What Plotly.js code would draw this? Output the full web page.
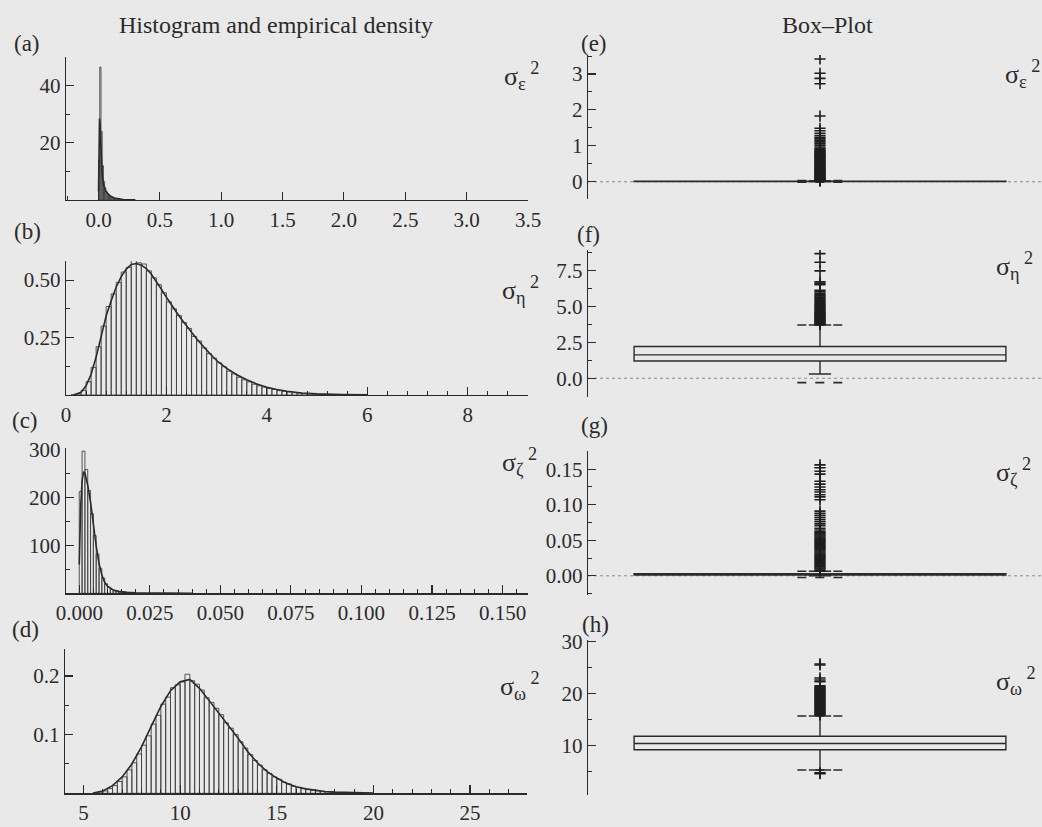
<!DOCTYPE html>
<html>
<head>
<meta charset="utf-8">
<script src="https://cdn.plot.ly/plotly-3.0.1.min.js"></script>
<style>html,body{margin:0;padding:0;background:#e9e9e9;}</style>
</head>
<body>
<div id="chart" style="width:1042px;height:827px;"></div>
<script>
// ---------- (a) sigma_eps^2 : histogram bins (centres) and empirical density ----------
const epsBinCentres = [0.005,0.015,0.025,0.035,0.045,0.055,0.065,0.075,0.085,0.095,0.105,0.115,0.125,0.135,0.145,0.155,0.165,0.175,0.185,0.195];
const epsBinHeights = [14,46.5,24,12,6.5,4.2,3,2.3,1.8,1.4,1.1,0.9,0.7,0.55,0.45,0.35,0.3,0.25,0.2,0.15];
const epsDensX = [0,0.004,0.008,0.012,0.016,0.02,0.025,0.03,0.04,0.05,0.06,0.08,0.1,0.13,0.16,0.2,0.3];
const epsDensY = [3,18,28.5,27,22,16,11.5,8.5,5.5,4,3,2,1.3,0.7,0.4,0.2,0.05];

// ---------- (b) sigma_eta^2 ----------
const etaBinCentres = [0.15,0.25,0.35,0.45,0.55,0.65,0.75,0.85,0.95,1.05,1.15,1.25,1.35,1.45,1.55,1.65,1.75,1.85,1.95,2.05,2.15,2.25,2.35,2.45,2.55,2.65,2.75,2.85,2.95,3.05,3.15,3.25,3.35,3.45,3.55,3.65,3.75,3.85,3.95,4.05,4.15,4.25,4.35,4.45,4.55,4.65,4.75,4.85,4.95,5.05,5.15,5.25,5.35,5.45,5.55];
const etaBinHeights = [0.001,0.005,0.02,0.058,0.12,0.21,0.3,0.385,0.44,0.49,0.535,0.555,0.59,0.575,0.57,0.54,0.51,0.48,0.445,0.405,0.375,0.345,0.315,0.29,0.255,0.235,0.205,0.18,0.16,0.14,0.123,0.104,0.092,0.077,0.066,0.057,0.047,0.04,0.034,0.028,0.024,0.019,0.016,0.013,0.01,0.008,0.0065,0.005,0.004,0.003,0.0025,0.002,0.0015,0.0012,0.001];
const etaDensX = [0.15,0.3,0.4,0.5,0.6,0.7,0.8,0.9,1.0,1.1,1.2,1.3,1.4,1.5,1.6,1.7,1.8,1.9,2.0,2.1,2.2,2.3,2.4,2.5,2.6,2.7,2.8,2.9,3.0,3.2,3.4,3.6,3.8,4.0,4.2,4.4,4.7,5.0,5.5,6.0];
const etaDensY = [0,0.012,0.04,0.09,0.165,0.26,0.345,0.41,0.47,0.515,0.548,0.568,0.572,0.565,0.55,0.525,0.495,0.46,0.425,0.39,0.36,0.33,0.3,0.272,0.245,0.22,0.195,0.172,0.15,0.116,0.088,0.066,0.048,0.034,0.024,0.016,0.009,0.005,0.002,0.001];

// ---------- (c) sigma_zeta^2 ----------
const zetaBinCentres = [0.0005,0.0015,0.0025,0.0035,0.0045,0.0055,0.0065,0.0075,0.0085,0.0095,0.0105,0.0115,0.0125,0.0135,0.0145,0.0155,0.0165,0.0175,0.0185,0.0195];
const zetaBinHeights = [212,296,258,214,166,120,82,52,32,20,12.5,8,5.2,3.5,2.4,1.7,1.2,0.9,0.7,0.5];
const zetaDensX = [0,0.0005,0.001,0.0015,0.002,0.0025,0.003,0.004,0.005,0.006,0.007,0.008,0.009,0.01,0.012,0.014,0.017,0.02,0.03,0.04];
const zetaDensY = [60,180,235,252,250,240,225,190,142,98,62,38,23,15,7,4,2,1,0.3,0.1];

// ---------- (d) sigma_omega^2 ----------
const omegaBinCentres = [5.625,5.875,6.125,6.375,6.625,6.875,7.125,7.375,7.625,7.875,8.125,8.375,8.625,8.875,9.125,9.375,9.625,9.875,10.125,10.375,10.625,10.875,11.125,11.375,11.625,11.875,12.125,12.375,12.625,12.875,13.125,13.375,13.625,13.875,14.125,14.375,14.625,14.875,15.125,15.375,15.625,15.875,16.125,16.375,16.625,16.875,17.125,17.375,17.625,17.875,18.125,18.375,18.625,18.875];
const omegaBinHeights = [0.001,0.002,0.004,0.008,0.013,0.02,0.028,0.04,0.052,0.067,0.082,0.098,0.118,0.133,0.152,0.164,0.18,0.185,0.19,0.203,0.192,0.186,0.176,0.163,0.155,0.145,0.134,0.12,0.111,0.1,0.088,0.077,0.066,0.056,0.048,0.04,0.034,0.028,0.024,0.019,0.016,0.012,0.01,0.008,0.0065,0.005,0.004,0.003,0.0025,0.002,0.0015,0.001,0.0008,0.0006];
const omegaDensX = [5.5,6,6.5,7,7.5,8,8.5,9,9.5,10,10.5,11,11.5,12,12.5,13,13.5,14,14.5,15,15.5,16,16.5,17,17.5,18,19,20];
const omegaDensY = [0.0005,0.004,0.013,0.028,0.05,0.079,0.114,0.148,0.175,0.19,0.194,0.179,0.158,0.137,0.114,0.094,0.071,0.052,0.037,0.026,0.017,0.011,0.0075,0.005,0.003,0.002,0.0008,0.0003];

// ---------- box-plot summaries: q1, median, q3, whisker ends, inner fences, outliers ----------
const epsBox   = {q1:0.004, median:0.008, q3:0.016, lo:0.0005, hi:0.03, fenceLo:-0.014, fenceHi:0.034};
const etaBox   = {q1:1.2, median:1.62, q3:2.2, lo:0.3, hi:3.7, fenceLo:-0.3, fenceHi:3.7};
const zetaBox  = {q1:0.0009, median:0.0017, q3:0.0031, lo:0.0001, hi:0.0064, fenceLo:-0.0024, fenceHi:0.0064};
const omegaBox = {q1:9.2, median:10.4, q3:11.8, lo:5.3, hi:15.7, fenceLo:5.3, fenceHi:15.7};

const epsOutliers = [0.02,0.035,0.05,0.06,0.075,0.09,0.1,0.12,0.13,0.145,0.16,0.18,0.19,0.21,0.22,0.24,0.26,0.27,0.29,0.3,0.32,0.34,0.35,0.37,0.39,0.41,0.42,0.44,0.46,0.48,0.5,0.51,0.53,0.55,0.57,0.59,0.6,0.62,0.64,0.66,0.68,0.7,0.71,0.73,0.75,0.77,0.79,0.81,0.83,0.85,0.87,0.9,0.93,0.97,1.02,1.07,1.11,1.16,1.2,1.24,1.29,1.35,1.42,1.49,1.83,2.73,2.88,3.02,3.42];
const etaOutliers = [3.72,3.76,3.8,3.85,3.9,3.94,3.98,4.03,4.08,4.12,4.17,4.22,4.26,4.3,4.35,4.4,4.45,4.5,4.55,4.6,4.66,4.72,4.78,4.84,4.9,4.97,5.04,5.1,5.17,5.24,5.32,5.4,5.47,5.55,5.63,5.72,5.8,5.9,6.0,6.1,6.5,6.6,6.7,7.45,8.05,8.65];
const zetaOutliers = [0.0065,0.008,0.0095,0.011,0.0125,0.014,0.0155,0.017,0.0185,0.02,0.0215,0.023,0.0245,0.026,0.0275,0.029,0.0305,0.032,0.0335,0.035,0.0365,0.038,0.0395,0.041,0.0425,0.044,0.0455,0.047,0.0485,0.05,0.0515,0.053,0.0545,0.056,0.0575,0.059,0.0605,0.062,0.0645,0.067,0.0705,0.073,0.076,0.079,0.082,0.085,0.088,0.091,0.107,0.111,0.114,0.118,0.121,0.125,0.129,0.133,0.143,0.147,0.152,0.156];
const omegaOutliers = [4.6,4.75,15.9,16.05,16.2,16.35,16.5,16.65,16.8,16.95,17.1,17.25,17.4,17.55,17.7,17.85,18.0,18.15,18.3,18.45,18.6,18.75,18.9,19.05,19.2,19.35,19.5,19.65,19.8,19.95,20.1,20.25,20.4,20.55,20.7,20.85,21.0,21.15,21.3,21.5,22.3,22.6,23.0,25.5,25.7];

// ---------- drawing ----------
const W = 1042, H = 827;
const INK = '#2b2b2b';
const SERIF = 'Liberation Serif, Times New Roman, serif';
const TICK_SIZE = 21;
const fx = p => p / W;
const fy = p => 1 - p / H;

function histTraces(n, cx, hy, bw, dx, dy) {
  const xa = 'x' + (n === 1 ? '' : n), ya = 'y' + (n === 1 ? '' : n);
  return [
    {type:'bar', x:cx, y:hy, width:bw, xaxis:xa, yaxis:ya,
     marker:{color:'rgba(0,0,0,0)', line:{color:'#444', width:0.9}}, hoverinfo:'skip'},
    {type:'scatter', mode:'lines', x:dx, y:dy, xaxis:xa, yaxis:ya,
     line:{color:INK, width:1.6}, hoverinfo:'skip'}
  ];
}

const BOX_W = 0.819, CAP = 0.05;
function boxTraces(n, s, out) {
  const xa = 'x' + n, ya = 'y' + n;
  return [
    {type:'box', x:[0], q1:[s.q1], median:[s.median], q3:[s.q3],
     lowerfence:[s.lo], upperfence:[s.hi], width:BOX_W, whiskerwidth:0.06,
     boxpoints:false, fillcolor:'rgba(0,0,0,0)', line:{color:INK, width:1.4},
     xaxis:xa, yaxis:ya, hoverinfo:'skip'},
    {type:'scatter', mode:'lines', xaxis:xa, yaxis:ya,
     x:[-CAP, CAP, null, -CAP, CAP], y:[s.fenceLo, s.fenceLo, null, s.fenceHi, s.fenceHi],
     line:{color:INK, width:1.6, dash:'dash'}, hoverinfo:'skip'},
    {type:'scatter', mode:'markers', xaxis:xa, yaxis:ya,
     x:out.map(() => 0), y:out,
     marker:{symbol:'cross-thin', size:8, line:{color:'#1e1e1e', width:1.6}}, hoverinfo:'skip'}
  ];
}

const data = [
  ...histTraces(1, epsBinCentres, epsBinHeights, 0.01, epsDensX, epsDensY),
  ...histTraces(2, etaBinCentres, etaBinHeights, 0.1, etaDensX, etaDensY),
  ...histTraces(3, zetaBinCentres, zetaBinHeights, 0.001, zetaDensX, zetaDensY),
  ...histTraces(4, omegaBinCentres, omegaBinHeights, 0.25, omegaDensX, omegaDensY),
  ...boxTraces(5, epsBox, epsOutliers),
  ...boxTraces(6, etaBox, etaOutliers),
  ...boxTraces(7, zetaBox, zetaOutliers),
  ...boxTraces(8, omegaBox, omegaOutliers)
];

const base = {
  showline:true, linecolor:INK, linewidth:1.3, ticks:'inside', ticklen:8, tickwidth:1.1,
  tickcolor:INK, showgrid:false, zeroline:false, fixedrange:true,
  tickfont:{family:SERIF, size:TICK_SIZE, color:INK}
};
function minor(vals) { return {tickvals:vals, ticks:'inside', ticklen:4, tickwidth:1, tickcolor:INK, showgrid:false}; }
function seq(a, b, step, skipEvery) {
  const out = [];
  for (let i = 0; a + i * step <= b + 1e-12; i++) {
    if (skipEvery && i % skipEvery === 0) continue;
    out.push(+(a + i * step).toFixed(6));
  }
  return out;
}
function xAxis(pxL, pxR, range, vals, text, mvals, anchor) {
  return Object.assign({}, base, {domain:[fx(pxL), fx(pxR)], range:range, tickmode:'array',
    tickvals:vals, ticktext:text, minor:minor(mvals), anchor:anchor});
}
function yAxis(pxTop, pxBot, range, vals, text, mvals, anchor) {
  return Object.assign({}, base, {domain:[fy(pxBot), fy(pxTop)], range:range, tickmode:'array',
    tickvals:vals, ticktext:text, minor:minor(mvals), anchor:anchor});
}
function hiddenX(anchor) {
  return {domain:[fx(588), fx(1042)], range:[-0.511, 0.489], visible:false, fixedrange:true, anchor:anchor};
}

const layout = {
  width:W, height:H, margin:{l:0, r:0, t:0, b:0},
  paper_bgcolor:'#e9e9e9', plot_bgcolor:'rgba(0,0,0,0)', showlegend:false, bargap:0,
  font:{family:SERIF, color:INK},
  // histogram panels
  xaxis:  xAxis(66, 528, [-0.265, 3.5], [0,0.5,1,1.5,2,2.5,3,3.5], ['0.0','0.5','1.0','1.5','2.0','2.5','3.0','3.5'], seq(-0.25, 3.25, 0.25, 2).concat([-0.25]), 'y'),
  yaxis:  yAxis(57, 200, [0, 50], [20,40], ['20','40'], [10,30,50], 'x'),
  xaxis2: xAxis(66, 528, [0, 9.2], [0,2,4,6,8], ['0','2','4','6','8'], seq(0, 9.2, 0.4, 5), 'y2'),
  yaxis2: yAxis(261, 395, [0, 0.583], [0.25,0.5], ['0.25','0.50'], [0.125,0.375], 'x2'),
  xaxis3: xAxis(66, 528, [-0.0047, 0.159], [0,0.025,0.05,0.075,0.1,0.125,0.15], ['0.000','0.025','0.050','0.075','0.100','0.125','0.150'], seq(0, 0.155, 0.005, 5), 'y3'),
  yaxis3: yAxis(448.3, 593.3, [0, 302], [100,200,300], ['100','200','300'], [50,150,250], 'x3'),
  xaxis4: xAxis(65, 527, [4.04, 27.95], [5,10,15,20,25], ['5','10','15','20','25'], seq(5, 27, 1, 5), 'y4'),
  yaxis4: yAxis(649, 793.3, [0, 0.246], [0.1,0.2], ['0.1','0.2'], [0.05,0.15], 'x4'),
  // box-plot panels
  xaxis5: hiddenX('y5'),
  yaxis5: yAxis(55, 199, [-0.48, 3.53], [0,1,2,3], ['0','1','2','3'], [-0.5,0.5,1.5,2.5,3.5], 'x5'),
  xaxis6: hiddenX('y6'),
  yaxis6: yAxis(250, 396.7, [-1.28, 8.9], [0,2.5,5,7.5], ['0.0','2.5','5.0','7.5'], [-1.25,1.25,3.75,6.25,8.75], 'x6'),
  xaxis7: hiddenX('y7'),
  yaxis7: yAxis(450.7, 595, [-0.027, 0.176], [0,0.05,0.1,0.15], ['0.00','0.05','0.10','0.15'], [-0.025,0.025,0.075,0.125,0.175], 'x7'),
  xaxis8: hiddenX('y8'),
  yaxis8: yAxis(640, 795, [0.5, 30.3], [10,20,30], ['10','20','30'], [5,15,25], 'x8'),
  shapes: [5,6,7].map(n => ({type:'line', xref:'x'+n+' domain', x0:0, x1:1, yref:'y'+n, y0:0, y1:0,
    line:{color:'#8a8a8a', width:1, dash:'dot'}, layer:'below'})),
  annotations: []
};

function note(text, px, py, size, anchor) {
  layout.annotations.push({text:text, xref:'paper', yref:'paper', x:fx(px), y:fy(py),
    xanchor:anchor || 'center', yanchor:'middle', showarrow:false,
    font:{family:SERIF, size:size, color:INK}});
}
note('Histogram and empirical density', 276, 25, 24);
note('Box–Plot', 827, 25, 24);
const letters = [['(a)',27,44],['(b)',27,231],['(c)',25,420],['(d)',25,629],
                 ['(e)',594,43],['(f)',588,234],['(g)',594,425],['(h)',595,624]];
letters.forEach(l => note(l[0], l[1], l[2], 23));
const sigmas = [['ε',502,76],['η',500,290],['ζ',500,462],['ω',498,686],
                ['ε',1003,74],['η',994,266],['ζ',994,472],['ω',994,681]];
sigmas.forEach(s => note('σ<sub>' + s[0] + '</sub><sup> 2</sup>', s[1], s[2], 26, 'left'));

Plotly.newPlot('chart', data, layout, {staticPlot:true, displayModeBar:false});
</script>
</body>
</html>
